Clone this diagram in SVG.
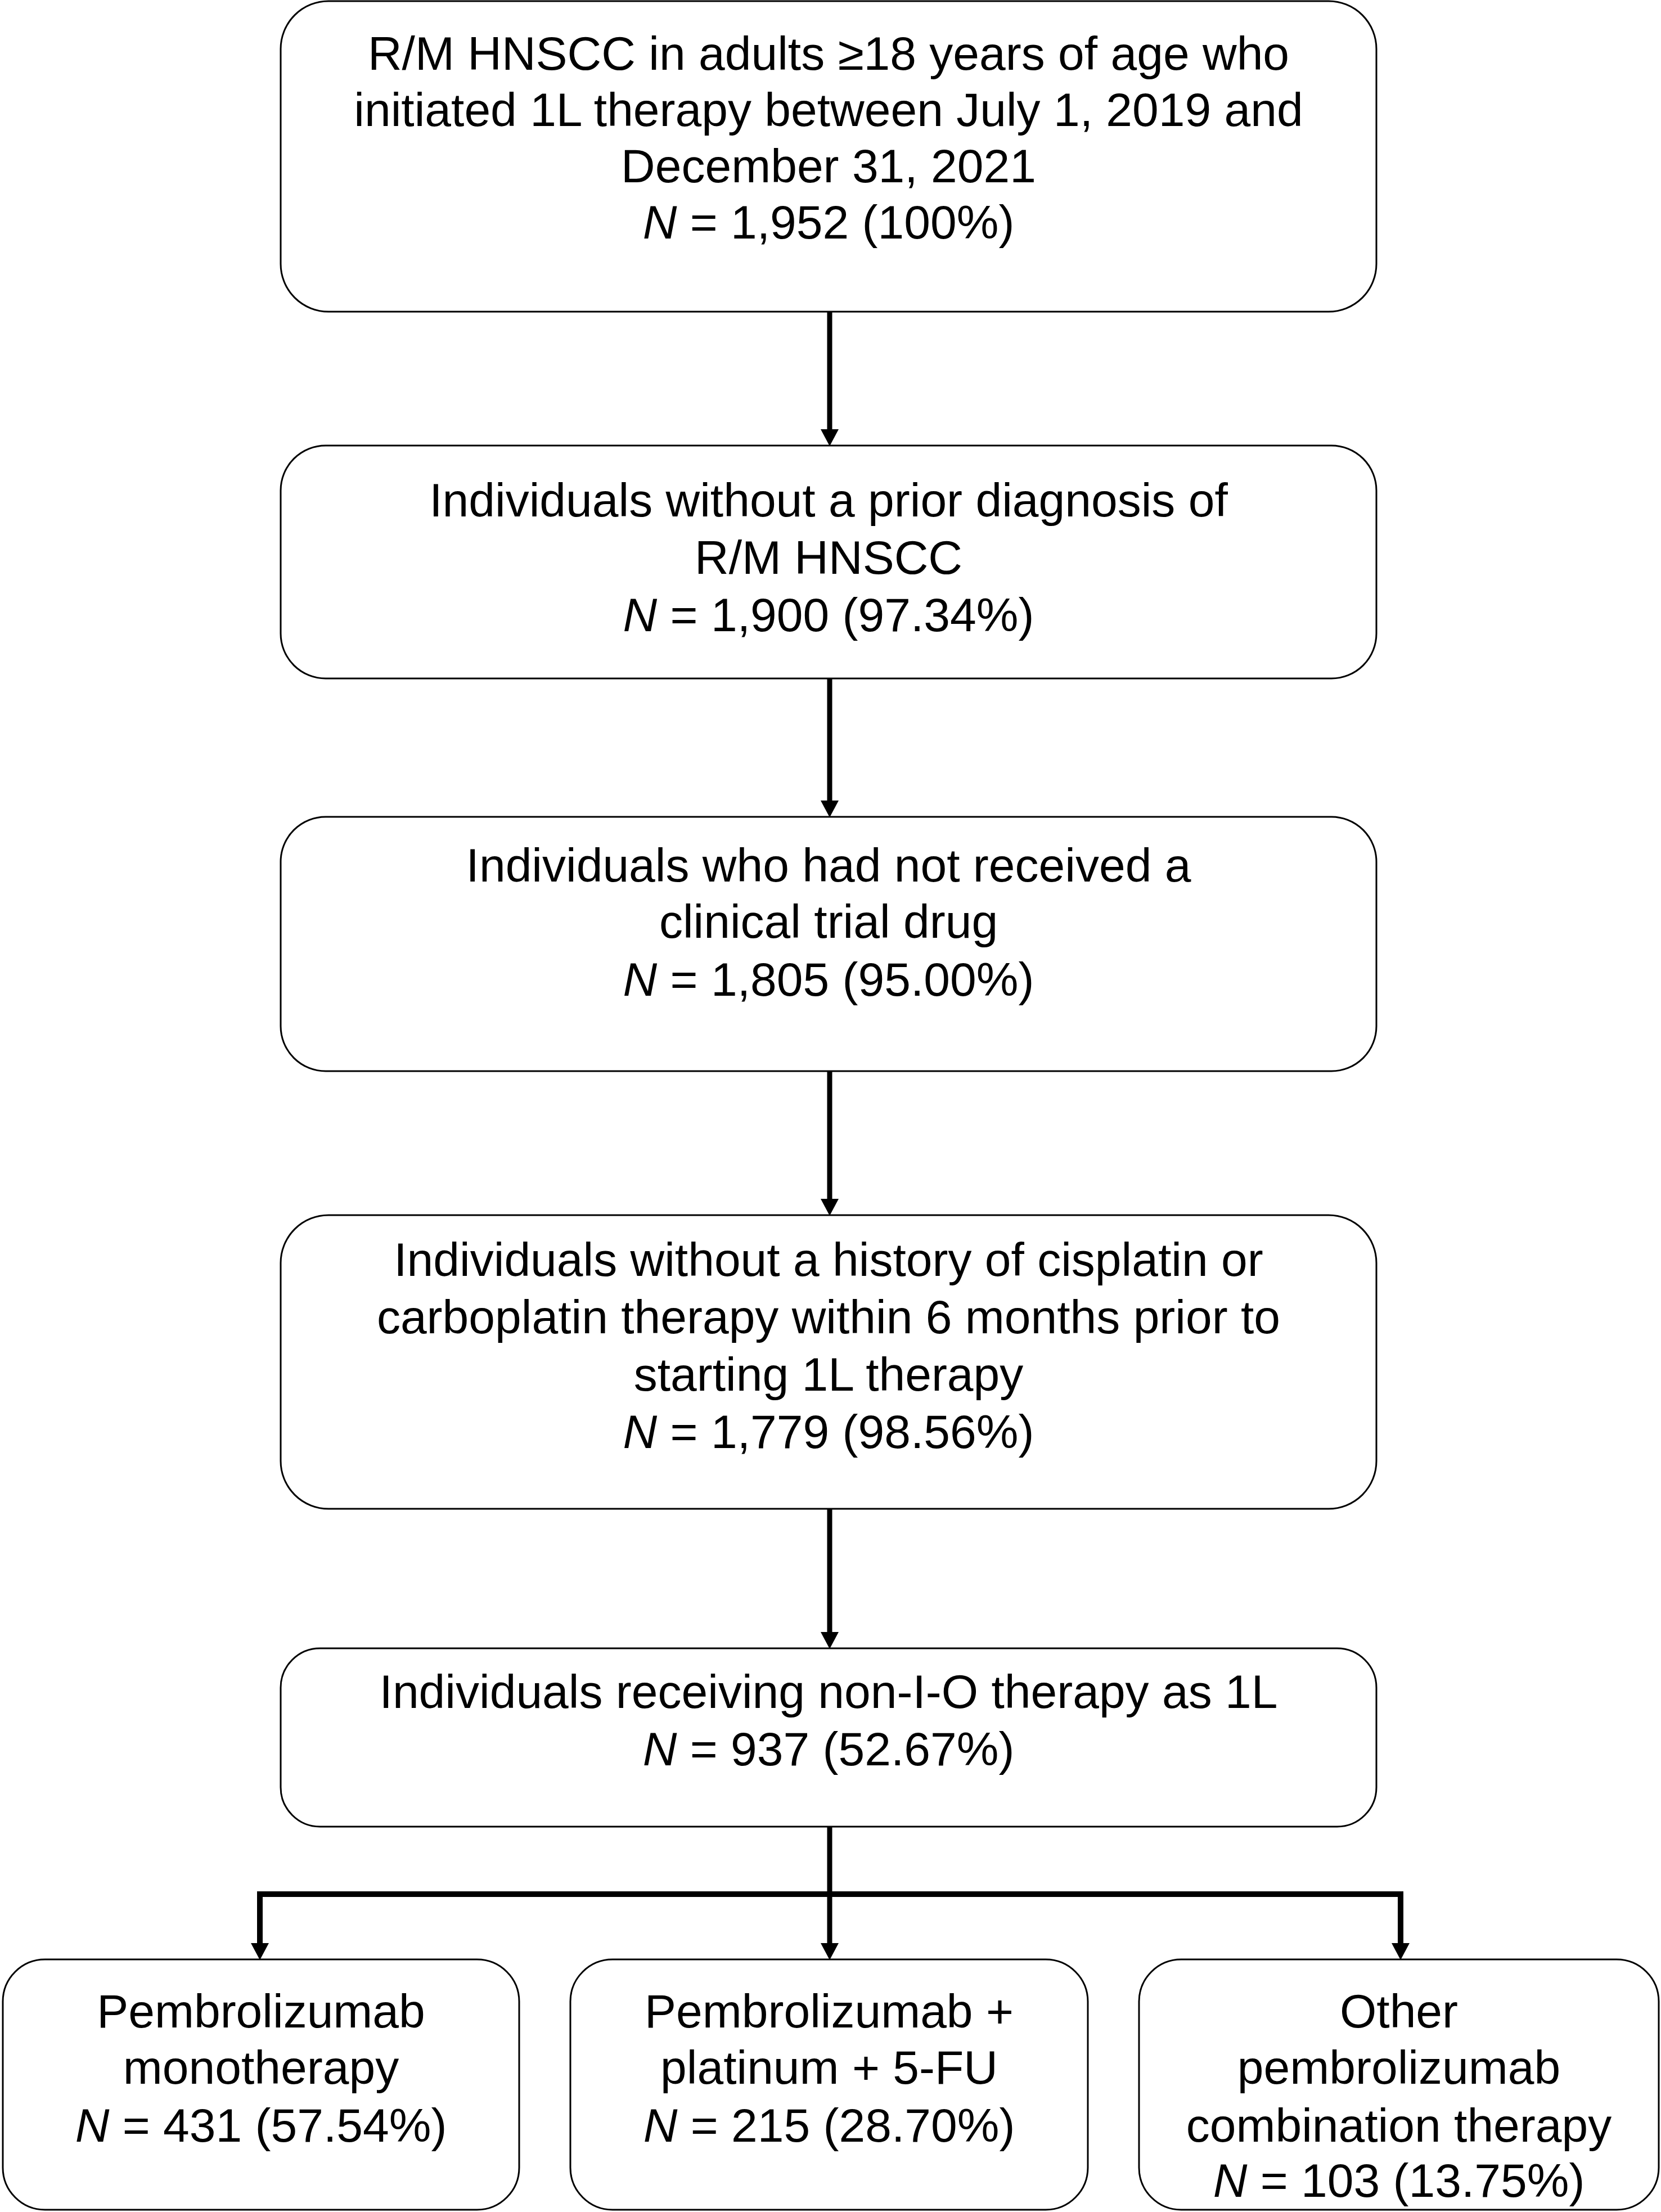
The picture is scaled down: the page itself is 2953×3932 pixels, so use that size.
<svg xmlns="http://www.w3.org/2000/svg" width="2953" height="3932" viewBox="0 0 2953 3932">
<defs>
<style>
.box{fill:#ffffff;stroke:#000000;stroke-width:3}
.t{font-family:"Liberation Sans",Arial,sans-serif;font-size:84px;fill:#000000;text-anchor:middle}
.i{font-style:italic}
.ln{stroke:#000000;stroke-width:9;fill:none}
.bar{stroke:#000000;stroke-width:10;fill:none;stroke-linecap:square}
</style>
<marker id="ah" markerUnits="userSpaceOnUse" viewBox="0 0 30 32" refX="0" refY="16" markerWidth="30" markerHeight="32" orient="auto">
<path d="M0,0 L30,16 L0,32 Z" fill="#000000"/>
</marker>
</defs>
<rect width="2953" height="3932" fill="#ffffff"/>
<g id="connectors">
<line class="ln" x1="1475" y1="554" x2="1475" y2="763" marker-end="url(#ah)"/>
<line class="ln" x1="1475" y1="1206" x2="1475" y2="1423" marker-end="url(#ah)"/>
<line class="ln" x1="1475" y1="1904" x2="1475" y2="2131" marker-end="url(#ah)"/>
<line class="ln" x1="1475" y1="2682" x2="1475" y2="2901" marker-end="url(#ah)"/>
<line class="ln" x1="1475" y1="3247" x2="1475" y2="3454" marker-end="url(#ah)"/>
<polyline class="bar" points="462,3454 462,3367 2490,3367 2490,3454"/>
<line class="ln" x1="462" y1="3420" x2="462" y2="3454" marker-end="url(#ah)"/>
<line class="ln" x1="2490" y1="3420" x2="2490" y2="3454" marker-end="url(#ah)"/>
</g>
<g id="n1">
<rect class="box" x="499" y="2" width="1948" height="552" rx="85" ry="85"/>
<text class="t" x="1473" y="124">R/M HNSCC in adults ≥18 years of age who</text>
<text class="t" x="1473" y="224">initiated 1L therapy between July 1, 2019 and</text>
<text class="t" x="1473" y="324">December 31, 2021</text>
<text class="t" x="1473" y="424"><tspan class="i">N</tspan> = 1,952 (100%)</text>
</g>
<g id="n2">
<rect class="box" x="499" y="792" width="1948" height="414" rx="80" ry="80"/>
<text class="t" x="1473" y="918">Individuals without a prior diagnosis of</text>
<text class="t" x="1473" y="1020">R/M HNSCC</text>
<text class="t" x="1473" y="1122"><tspan class="i">N</tspan> = 1,900 (97.34%)</text>
</g>
<g id="n3">
<rect class="box" x="499" y="1452" width="1948" height="452" rx="80" ry="80"/>
<text class="t" x="1473" y="1567">Individuals who had not received a</text>
<text class="t" x="1473" y="1667">clinical trial drug</text>
<text class="t" x="1473" y="1770"><tspan class="i">N</tspan> = 1,805 (95.00%)</text>
</g>
<g id="n4">
<rect class="box" x="499" y="2160" width="1948" height="522" rx="85" ry="85"/>
<text class="t" x="1473" y="2268">Individuals without a history of cisplatin or</text>
<text class="t" x="1473" y="2370">carboplatin therapy within 6 months prior to</text>
<text class="t" x="1473" y="2472">starting 1L therapy</text>
<text class="t" x="1473" y="2574"><tspan class="i">N</tspan> = 1,779 (98.56%)</text>
</g>
<g id="n5">
<rect class="box" x="499" y="2930" width="1948" height="317" rx="70" ry="70"/>
<text class="t" x="1473" y="3036">Individuals receiving non-I-O therapy as 1L</text>
<text class="t" x="1473" y="3138"><tspan class="i">N</tspan> = 937 (52.67%)</text>
</g>
<g id="n6">
<rect class="box" x="5" y="3483" width="918" height="445" rx="75" ry="75"/>
<text class="t" x="464" y="3604">Pembrolizumab</text>
<text class="t" x="464" y="3704">monotherapy</text>
<text class="t" x="464" y="3807"><tspan class="i">N</tspan> = 431 (57.54%)</text>
</g>
<g id="n7">
<rect class="box" x="1014" y="3483" width="920" height="445" rx="75" ry="75"/>
<text class="t" x="1474" y="3604">Pembrolizumab +</text>
<text class="t" x="1474" y="3704">platinum + 5-FU</text>
<text class="t" x="1474" y="3807"><tspan class="i">N</tspan> = 215 (28.70%)</text>
</g>
<g id="n8">
<rect class="box" x="2025" y="3483" width="924" height="445" rx="75" ry="75"/>
<text class="t" x="2487" y="3604">Other</text>
<text class="t" x="2487" y="3704">pembrolizumab</text>
<text class="t" x="2487" y="3807">combination therapy</text>
<text class="t" x="2487" y="3905"><tspan class="i">N</tspan> = 103 (13.75%)</text>
</g>
</svg>
